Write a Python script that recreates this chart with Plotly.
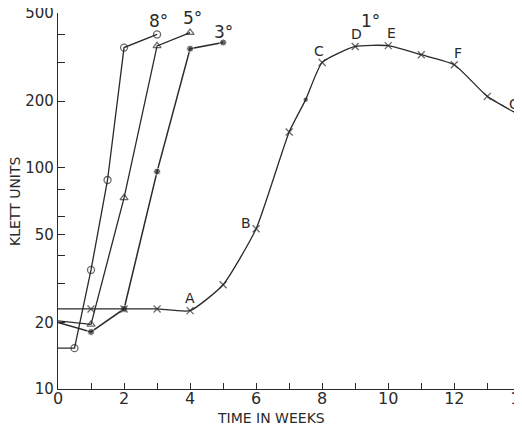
import math
import plotly.graph_objects as go

# ---- data (weeks, Klett units) ----
weeks_8 = [0, 0.5, 1, 1.5, 2, 3]
klett_8 = [15.3, 15.3, 34.5, 88, 349, 400]

weeks_5 = [0, 1, 2, 3, 4]
klett_5 = [20.3, 19.6, 73, 355, 408]

weeks_3 = [0, 1, 2, 3, 4, 5]
klett_3 = [20.0, 18.1, 23.0, 96, 345, 368]

weeks_1 = [0, 1, 2, 3, 4, 5, 6, 7, 7.5, 8, 9, 10, 11, 12, 13, 14]
klett_1 = [23.0, 23.0, 23.0, 23.0, 22.6, 29.6, 53, 145, 203, 299, 353, 356, 324, 292, 210, 172]

temp_labels = ["8°", "5°", "3°", "1°"]
temp_label_x = [3.04, 4.07, 5.0, 9.45]
temp_label_y = [458, 477, 412, 462]

point_labels = ["A", "B", "C", "D", "E", "F", "G"]
point_label_x = [4.0, 5.7, 7.9, 9.05, 10.1, 12.1, 13.82]
point_label_y = [25.8, 56, 335, 400, 408, 330, 193]

x_ticks = list(range(0, 15))
y_major = [10, 20, 50, 100, 200, 500]
y_minor = [30, 40, 60, 80, 300, 400]

INK = "#2a2a2a"
FONT = "DejaVu Sans, Liberation Sans, sans-serif"

# the page adds an 8px body margin, so the figure is sized to the visible area
OFF = 8
W, H = 522 - OFF, 431 - OFF
plot_l, plot_r, plot_t, plot_b = 58 - OFF, 0, 13 - OFF, 42
pw = W - plot_l - plot_r
ph = H - plot_t - plot_b

fig = go.Figure()

fig.add_trace(go.Scatter(
    x=weeks_8, y=klett_8, mode="lines+markers",
    line=dict(color=INK, width=1.3),
    marker=dict(symbol="circle-open", size=[0 if x == 0 else 7 for x in weeks_8],
                color=INK, line=dict(width=1.3, color=INK)),
    showlegend=False, cliponaxis=False))

fig.add_trace(go.Scatter(
    x=weeks_5, y=klett_5, mode="lines+markers",
    line=dict(color=INK, width=1.3),
    marker=dict(symbol="triangle-up-open", size=[0 if x == 0 else 7 for x in weeks_5],
                color=INK, line=dict(width=1.3, color=INK)),
    showlegend=False, cliponaxis=False))

fig.add_trace(go.Scatter(
    x=weeks_3, y=klett_3, mode="lines+markers",
    line=dict(color=INK, width=1.5),
    marker=dict(symbol="circle", size=[0 if x == 0 else 7 for x in weeks_3],
                color=INK),
    showlegend=False, cliponaxis=False))

fig.add_trace(go.Scatter(
    x=weeks_1, y=klett_1, mode="lines+markers",
    line=dict(color=INK, width=1.3, shape="spline", smoothing=0.5),
    marker=dict(symbol=["circle" if x == 7.5 else "x-thin" for x in weeks_1],
                size=[0 if x == 0 else (3 if x == 7.5 else 7) for x in weeks_1],
                color=INK, line=dict(width=1.3, color=INK)),
    showlegend=False, cliponaxis=False))

annotations = []
for t, x, y in zip(temp_labels, temp_label_x, temp_label_y):
    annotations.append(dict(x=x, y=math.log10(y), xref="x", yref="y", text=t,
                            showarrow=False, font=dict(size=17, color=INK, family=FONT)))
for t, x, y in zip(point_labels, point_label_x, point_label_y):
    annotations.append(dict(x=x, y=math.log10(y), xref="x", yref="y", text=t,
                            showarrow=False, font=dict(size=14, color=INK, family=FONT)))
annotations.append(dict(x=(271 - OFF - plot_l) / pw, y=(H - plot_b - (418 - OFF)) / ph,
                        xref="paper", yref="paper", text="TIME IN WEEKS",
                        yanchor="middle", showarrow=False,
                        font=dict(size=14, color=INK, family=FONT)))
annotations.append(dict(x=(15 - OFF - plot_l) / pw, y=0.5, xref="paper", yref="paper",
                        text="KLETT UNITS", textangle=-90, showarrow=False,
                        xanchor="center", yanchor="middle",
                        font=dict(size=14, color=INK, family=FONT)))

fig.update_layout(
    width=W, height=H,
    margin=dict(l=plot_l, r=plot_r, t=plot_t, b=plot_b, autoexpand=False),
    paper_bgcolor="white", plot_bgcolor="white",
    font=dict(family=FONT, color=INK),
    annotations=annotations,
    xaxis=dict(range=[0, 14.05], tickvals=x_ticks,
               ticktext=[str(v) if v % 2 == 0 else "" for v in x_ticks],
               ticks="inside", ticklen=6, tickwidth=1.2, tickcolor=INK,
               showline=True, linecolor=INK, linewidth=1.4, showgrid=False,
               zeroline=False, tickfont=dict(size=16, color=INK, family=FONT),
               ticklabeloverflow="allow", ticklabelstandoff=-5, automargin=False),
    yaxis=dict(type="log", range=[1, math.log10(500)],
               tickvals=y_major + y_minor,
               ticktext=[str(v) for v in y_major] + ["" for _ in y_minor],
               ticks="inside", ticklen=7, tickwidth=1.2, tickcolor=INK,
               showline=True, linecolor=INK, linewidth=1.4, showgrid=False,
               zeroline=False, tickfont=dict(size=15, color=INK, family=FONT),
               ticklabeloverflow="allow", automargin=False),
)

fig.write_html("out.html")
